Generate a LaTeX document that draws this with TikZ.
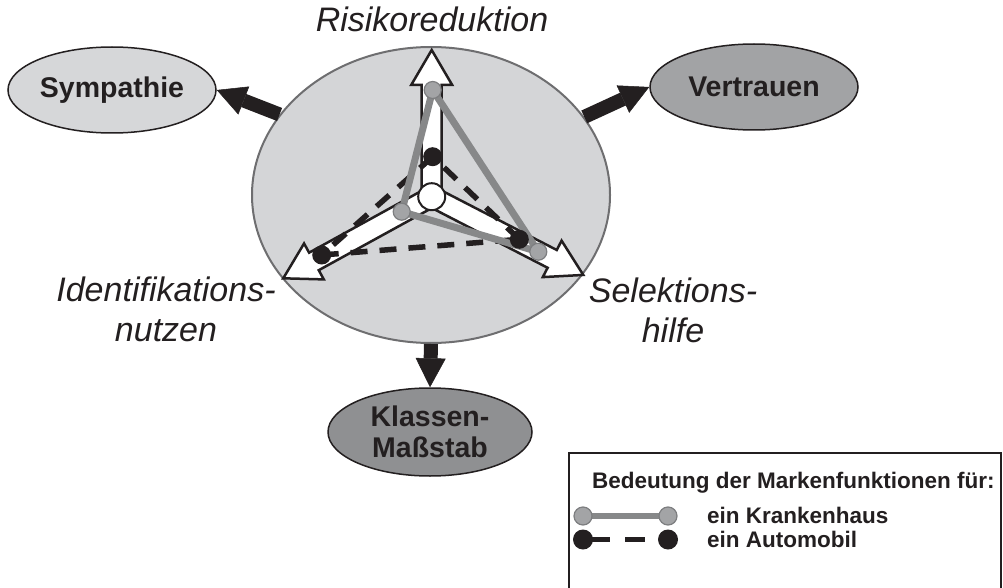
\documentclass[tikz,border=0pt]{standalone}
\usepackage{fontspec}
\setmainfont{Liberation Sans}
\usetikzlibrary{shapes.geometric,arrows.meta}
\definecolor{ink}{HTML}{231F20}
\definecolor{bigfill}{HTML}{D4D5D7}
\definecolor{bigedge}{HTML}{6E6E70}
\definecolor{lightfill}{HTML}{D6D7D9}
\definecolor{midfill}{HTML}{A2A3A5}
\definecolor{darkfill}{HTML}{8F9092}
\definecolor{kline}{HTML}{878889}
\definecolor{kdotfill}{HTML}{A3A4A6}
\definecolor{kdotedge}{HTML}{7D7E80}
\newcommand\lblfont{\fontsize{34}{40}\selectfont\itshape}
\newcommand\ovalfont{\fontsize{28.5}{31}\selectfont\bfseries}
\newcommand\legfont{\fontsize{22.5}{26}\selectfont\bfseries}
\tikzset{
  oval/.style={ellipse, draw=ink, line width=1.5pt, inner sep=0pt,
    minimum width=208pt, minimum height=86pt, font=\ovalfont, text=ink, align=center},
  fatarrow/.style={draw=ink, line width=14pt,
    -{Triangle[length=29pt,width=30pt,line width=0.5pt]}},
  lbl/.style={font=\lblfont, text=ink, inner sep=0pt, align=center},
  legtext/.style={font=\legfont, text=ink, inner sep=0pt, anchor=base west},
  kstroke/.style={draw=kline, line width=7pt, line join=round},
  astroke/.style={draw=ink, line width=5.5pt, dash pattern=on 17pt off 12pt},
  kdot/.style={fill=kdotfill, draw=kdotedge, line width=1.2pt},
  adot/.style={fill=ink},
  warrow/.pic={
    \draw[draw=ink, line width=2.5pt, fill=white, line join=miter]
      (0,-10) -- (#1-35,-10) -- (#1-35,-20.5) -- (#1,0) -- (#1-35,20.5)
      -- (#1-35,10) -- (0,10) -- cycle;
  }
}
\begin{document}
\begin{tikzpicture}[x=1pt,y=-1pt]
\useasboundingbox (0,0) rectangle (1003,588);

% central ellipse
\node[ellipse, draw=bigedge, line width=2pt, fill=bigfill, inner sep=0pt,
  minimum width=358pt, minimum height=296pt] (big) at (431,195) {};

% outer ovals
\node[oval, fill=lightfill] (symp) at (112,90) {Sympathie};
\node[oval, fill=midfill] (vert) at (754,87) {Vertrauen};
\node[oval, fill=darkfill, minimum width=204pt, minimum height=88pt] (klas) at (430,432) {Klassen-\\Maßstab};

% outer arrows
\draw[fatarrow] (big.152) -- (symp.east);
\draw[fatarrow] (big.27.5) -- (vert.west);
\draw[fatarrow] (big.south) -- (klas.north);

% white arrows
\coordinate (ctr) at (431.7,196.7);
\pic[rotate=90] at (ctr) {warrow=146.7};
\pic[rotate=208.8] at (ctr) {warrow=169.4};
\pic[rotate=332.7] at (ctr) {warrow=170.6};
\node[circle, draw=ink, line width=2pt, fill=white, minimum size=27pt, inner sep=0pt] (hub) at (ctr) {};

% data points
\coordinate (kt) at (432.7,90);
\coordinate (kl) at (401.7,211.7);
\coordinate (kr) at (538.3,251.7);
\coordinate (at) at (432.7,156.7);
\coordinate (al) at (321.7,255);
\coordinate (ar) at (519.3,239.3);

\draw[astroke] (at) -- (al);
\draw[astroke] (al) -- (ar);
\draw[astroke] (ar) -- (at);
\draw[kstroke] (kt) -- (kl) -- (kr) -- cycle;
\foreach \p in {kt,kl,kr} \draw[kdot] (\p) circle (8.5);
\foreach \p in {at,al,ar} \fill[adot] (\p) circle (9.5);

% labels
\node[lbl, anchor=base] (risk) at (432,32) {Risikoreduktion};
\node[lbl, anchor=north] (ident) at (166,277) {Identifikations-\\nutzen};
\node[lbl, anchor=north] (selek) at (673,278) {Selektions-\\hilfe};

% legend
\draw[draw=ink, line width=2pt] (1001,600) -- (1001,453) -- (569,453) -- (569,600);
\node[legtext] (legh) at (592,488) {Bedeutung der Markenfunktionen für:};
\coordinate (lk1) at (583,516);
\coordinate (lk2) at (668,516);
\draw[kstroke, line width=6pt] (lk1) -- (lk2);
\draw[kdot] (lk1) circle (9);
\draw[kdot] (lk2) circle (9);
\node[legtext] (legk) at (707,523) {ein Krankenhaus};
\coordinate (la1) at (583,539.5);
\coordinate (la2) at (668,539.5);
\draw[draw=ink, line width=5pt, dash pattern=on 27pt off 15pt on 20pt off 30pt] (la1) -- (la2);
\fill[adot] (la1) circle (10);
\fill[adot] (la2) circle (10);
\node[legtext] (lega) at (707,547) {ein Automobil};
\end{tikzpicture}
\end{document}
